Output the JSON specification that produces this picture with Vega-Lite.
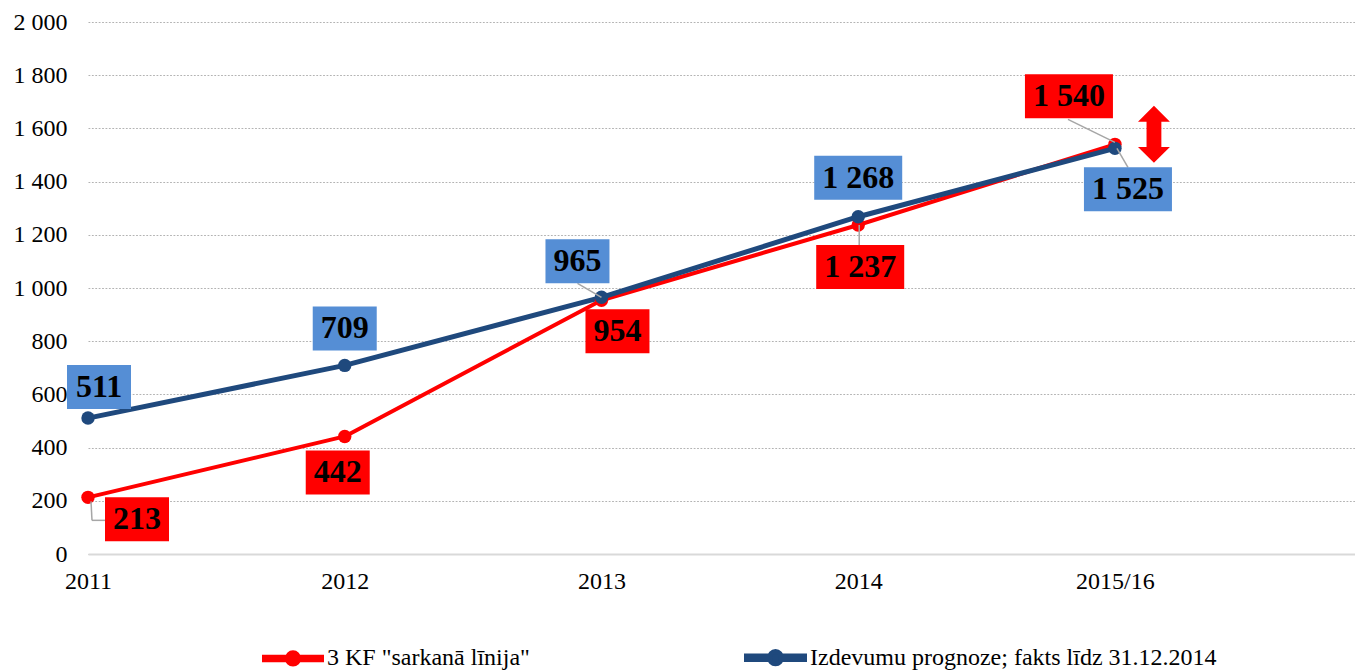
{
  "$schema": "https://vega.github.io/schema/vega-lite/v6.json",
  "autosize": {"type": "none"},
  "padding": {"left": 88, "top": 22, "right": 0, "bottom": 117},
  "width": 1267,
  "height": 532,
  "background": "#ffffff",
  "config": {
    "view": {"stroke": null},
    "locale": {"number": {"decimal": ",", "thousands": " ", "grouping": [3], "currency": ["", ""]}},
    "axis": {"labelFont": "Liberation Serif", "labelFontSize": 24, "labelColor": "#000000"}
  },
  "data": {
    "values": [
      {"series": "3 KF \"sarkanā līnija\"", "year": "2011", "idx": 0, "value": 213},
      {"series": "3 KF \"sarkanā līnija\"", "year": "2012", "idx": 1, "value": 442},
      {"series": "3 KF \"sarkanā līnija\"", "year": "2013", "idx": 2, "value": 954},
      {"series": "3 KF \"sarkanā līnija\"", "year": "2014", "idx": 3, "value": 1237},
      {"series": "3 KF \"sarkanā līnija\"", "year": "2015/16", "idx": 4, "value": 1540},
      {"series": "Izdevumu prognoze; fakts līdz 31.12.2014", "year": "2011", "idx": 0, "value": 511},
      {"series": "Izdevumu prognoze; fakts līdz 31.12.2014", "year": "2012", "idx": 1, "value": 709},
      {"series": "Izdevumu prognoze; fakts līdz 31.12.2014", "year": "2013", "idx": 2, "value": 965},
      {"series": "Izdevumu prognoze; fakts līdz 31.12.2014", "year": "2014", "idx": 3, "value": 1268},
      {"series": "Izdevumu prognoze; fakts līdz 31.12.2014", "year": "2015/16", "idx": 4, "value": 1525}
    ]
  },
  "encoding": {
    "x": {
      "field": "idx", "type": "quantitative",
      "scale": {"domain": [0, 4.935], "nice": false, "zero": false},
      "axis": {
        "title": null, "values": [0, 1, 2, 3, 4],
        "labelExpr": "['2011','2012','2013','2014','2015/16'][datum.value]",
        "grid": false, "ticks": false, "tickSize": 0, "labelPadding": 15,
        "domainColor": "#D9D9D9", "domainWidth": 2, "zindex": 1,
        "labelAlign": "center", "labelBaseline": "top", "labelFlush": false
      }
    },
    "y": {
      "field": "value", "type": "quantitative",
      "scale": {"domain": [0, 2000], "nice": false},
      "axis": {
        "title": null, "values": [0, 200, 400, 600, 800, 1000, 1200, 1400, 1600, 1800, 2000],
        "format": ",d", "domain": false, "ticks": false, "tickSize": 0, "labelPadding": 21,
        "grid": true, "gridColor": "#B3B3B3", "gridDash": [1.8, 1.6], "gridWidth": 1.1,
        "labelFlush": false, "labelBaseline": "middle"
      }
    }
  },
  "layer": [
    {
      "mark": {"type": "line", "strokeCap": "round", "strokeJoin": "round"},
      "encoding": {
        "color": {
          "field": "series", "type": "nominal",
          "scale": {"domain": ["3 KF \"sarkanā līnija\"", "Izdevumu prognoze; fakts līdz 31.12.2014"], "range": ["#FF0000", "#1F497D"]},
          "legend": {
            "title": null, "orient": "none", "legendX": 174, "legendY": 604, "direction": "horizontal",
            "symbolType": "M-1,-0.06L-0.2,-0.06L-0.2,0.06L-1,0.06Z M0.2,-0.06L1,-0.06L1,0.06L0.2,0.06Z M-0.21,0A0.21,0.21 0 1,0 0.21,0A0.21,0.21 0 1,0 -0.21,0Z",
            "symbolSize": 3364, "symbolStrokeWidth": 0, "symbolOpacity": 1,
            "labelFont": "Liberation Serif", "labelFontSize": 24, "labelColor": "#000000", "labelLimit": 0,
            "labelOffset": 3, "columnPadding": 206, "padding": 0,
            "encode": {"symbols": {"update": {"fill": {"scale": "color", "field": "value"}, "stroke": {"value": "transparent"}}}}
          }
        },
        "strokeWidth": {
          "field": "series", "type": "nominal",
          "scale": {"domain": ["3 KF \"sarkanā līnija\"", "Izdevumu prognoze; fakts līdz 31.12.2014"], "range": [4, 5]},
          "legend": null
        }
      }
    },
    {
      "mark": {"type": "point", "filled": true, "opacity": 1, "size": 180, "strokeWidth": 0},
      "encoding": {
        "color": {
          "field": "series", "type": "nominal",
          "scale": {"domain": ["3 KF \"sarkanā līnija\"", "Izdevumu prognoze; fakts līdz 31.12.2014"], "range": ["#FF0000", "#1F497D"]},
          "legend": {
            "title": null, "orient": "none", "legendX": 174, "legendY": 604, "direction": "horizontal",
            "symbolType": "M-1,-0.06L-0.2,-0.06L-0.2,0.06L-1,0.06Z M0.2,-0.06L1,-0.06L1,0.06L0.2,0.06Z M-0.21,0A0.21,0.21 0 1,0 0.21,0A0.21,0.21 0 1,0 -0.21,0Z",
            "symbolSize": 3364, "symbolStrokeWidth": 0, "symbolOpacity": 1,
            "labelFont": "Liberation Serif", "labelFontSize": 24, "labelColor": "#000000", "labelLimit": 0,
            "labelOffset": 3, "columnPadding": 206, "padding": 0,
            "encode": {"symbols": {"update": {"fill": {"scale": "color", "field": "value"}, "stroke": {"value": "transparent"}}}}
          }
        }
      }
    },
    {"transform": [{"filter": "datum.value == 213"}], "mark": {"type": "rule", "color": "#A6A6A6", "strokeWidth": 1.5, "xOffset": 3, "yOffset": 4, "x2Offset": 4, "y2Offset": 23}, "encoding": {"x2": {"field": "idx"}, "y2": {"field": "value"}}},
    {"transform": [{"filter": "datum.value == 213"}], "mark": {"type": "rule", "color": "#A6A6A6", "strokeWidth": 1.5, "xOffset": 4, "yOffset": 23, "x2Offset": 19, "y2Offset": 23}, "encoding": {"x2": {"field": "idx"}, "y2": {"field": "value"}}},
    {"transform": [{"filter": "datum.value == 965"}], "mark": {"type": "rule", "color": "#A6A6A6", "strokeWidth": 1.5, "xOffset": 0, "yOffset": 0, "x2Offset": -24, "y2Offset": -14}, "encoding": {"x2": {"field": "idx"}, "y2": {"field": "value"}}},
    {"transform": [{"filter": "datum.value == 1237"}], "mark": {"type": "rule", "color": "#A6A6A6", "strokeWidth": 1.5, "xOffset": 1, "yOffset": 0, "x2Offset": 1, "y2Offset": 20}, "encoding": {"x2": {"field": "idx"}, "y2": {"field": "value"}}},
    {"transform": [{"filter": "datum.value == 1540"}], "mark": {"type": "rule", "color": "#A6A6A6", "strokeWidth": 1.5, "xOffset": -47, "yOffset": -25, "x2Offset": 0, "y2Offset": -2}, "encoding": {"x2": {"field": "idx"}, "y2": {"field": "value"}}},
    {"transform": [{"filter": "datum.value == 1525"}], "mark": {"type": "rule", "color": "#A6A6A6", "strokeWidth": 1.5, "xOffset": 2, "yOffset": 0, "x2Offset": 13, "y2Offset": 19}, "encoding": {"x2": {"field": "idx"}, "y2": {"field": "value"}}},

    {"transform": [{"filter": "datum.value == 213"}], "layer": [
      {"mark": {"type": "point", "shape": "M-1,-0.6875L1,-0.6875L1,0.6875L-1,0.6875Z", "size": 4096, "filled": true, "opacity": 1, "color": "#FF0000", "strokeWidth": 0, "xOffset": 49, "yOffset": 22}},
      {"mark": {"type": "text", "font": "Liberation Serif", "fontWeight": "bold", "fontSize": 32, "color": "#000000", "align": "center", "baseline": "middle", "xOffset": 49, "yOffset": 22}, "encoding": {"text": {"field": "value", "type": "quantitative", "format": ",d"}}}
    ]},
    {"transform": [{"filter": "datum.value == 442"}], "layer": [
      {"mark": {"type": "point", "shape": "M-1,-0.6875L1,-0.6875L1,0.6875L-1,0.6875Z", "size": 4096, "filled": true, "opacity": 1, "color": "#FF0000", "strokeWidth": 0, "xOffset": -7, "yOffset": 36}},
      {"mark": {"type": "text", "font": "Liberation Serif", "fontWeight": "bold", "fontSize": 32, "color": "#000000", "align": "center", "baseline": "middle", "xOffset": -7, "yOffset": 36}, "encoding": {"text": {"field": "value", "type": "quantitative", "format": ",d"}}}
    ]},
    {"transform": [{"filter": "datum.value == 954"}], "layer": [
      {"mark": {"type": "point", "shape": "M-1,-0.6875L1,-0.6875L1,0.6875L-1,0.6875Z", "size": 4096, "filled": true, "opacity": 1, "color": "#FF0000", "strokeWidth": 0, "xOffset": 16, "yOffset": 31}},
      {"mark": {"type": "text", "font": "Liberation Serif", "fontWeight": "bold", "fontSize": 32, "color": "#000000", "align": "center", "baseline": "middle", "xOffset": 16, "yOffset": 31}, "encoding": {"text": {"field": "value", "type": "quantitative", "format": ",d"}}}
    ]},
    {"transform": [{"filter": "datum.value == 1237"}], "layer": [
      {"mark": {"type": "point", "shape": "M-1,-0.5L1,-0.5L1,0.5L-1,0.5Z", "size": 7744, "filled": true, "opacity": 1, "color": "#FF0000", "strokeWidth": 0, "xOffset": 2, "yOffset": 42}},
      {"mark": {"type": "text", "font": "Liberation Serif", "fontWeight": "bold", "fontSize": 32, "color": "#000000", "align": "center", "baseline": "middle", "xOffset": 2, "yOffset": 42}, "encoding": {"text": {"field": "value", "type": "quantitative", "format": ",d"}}}
    ]},
    {"transform": [{"filter": "datum.value == 1540"}], "layer": [
      {"mark": {"type": "point", "shape": "M-1,-0.5L1,-0.5L1,0.5L-1,0.5Z", "size": 7744, "filled": true, "opacity": 1, "color": "#FF0000", "strokeWidth": 0, "xOffset": -46, "yOffset": -48}},
      {"mark": {"type": "text", "font": "Liberation Serif", "fontWeight": "bold", "fontSize": 32, "color": "#000000", "align": "center", "baseline": "middle", "xOffset": -46, "yOffset": -48}, "encoding": {"text": {"field": "value", "type": "quantitative", "format": ",d"}}},
      {"mark": {"type": "point", "shape": "M0,-1L0.56,-0.44L0.26,-0.44L0.26,0.44L0.56,0.44L0,1L-0.56,0.44L-0.26,0.44L-0.26,-0.44L-0.56,-0.44Z", "size": 3249, "filled": true, "opacity": 1, "color": "#FF0000", "strokeWidth": 0, "xOffset": 39, "yOffset": -10}}
    ]},
    {"transform": [{"filter": "datum.value == 511"}], "layer": [
      {"mark": {"type": "point", "shape": "M-1,-0.6875L1,-0.6875L1,0.6875L-1,0.6875Z", "size": 4096, "filled": true, "opacity": 1, "color": "#558ED5", "strokeWidth": 0, "xOffset": 11, "yOffset": -31}},
      {"mark": {"type": "text", "font": "Liberation Serif", "fontWeight": "bold", "fontSize": 32, "color": "#000000", "align": "center", "baseline": "middle", "xOffset": 11, "yOffset": -31}, "encoding": {"text": {"field": "value", "type": "quantitative", "format": ",d"}}}
    ]},
    {"transform": [{"filter": "datum.value == 709"}], "layer": [
      {"mark": {"type": "point", "shape": "M-1,-0.6875L1,-0.6875L1,0.6875L-1,0.6875Z", "size": 4096, "filled": true, "opacity": 1, "color": "#558ED5", "strokeWidth": 0, "xOffset": 0, "yOffset": -37}},
      {"mark": {"type": "text", "font": "Liberation Serif", "fontWeight": "bold", "fontSize": 32, "color": "#000000", "align": "center", "baseline": "middle", "xOffset": 0, "yOffset": -37}, "encoding": {"text": {"field": "value", "type": "quantitative", "format": ",d"}}}
    ]},
    {"transform": [{"filter": "datum.value == 965"}], "layer": [
      {"mark": {"type": "point", "shape": "M-1,-0.6875L1,-0.6875L1,0.6875L-1,0.6875Z", "size": 4096, "filled": true, "opacity": 1, "color": "#558ED5", "strokeWidth": 0, "xOffset": -24, "yOffset": -36}},
      {"mark": {"type": "text", "font": "Liberation Serif", "fontWeight": "bold", "fontSize": 32, "color": "#000000", "align": "center", "baseline": "middle", "xOffset": -24, "yOffset": -36}, "encoding": {"text": {"field": "value", "type": "quantitative", "format": ",d"}}}
    ]},
    {"transform": [{"filter": "datum.value == 1268"}], "layer": [
      {"mark": {"type": "point", "shape": "M-1,-0.5L1,-0.5L1,0.5L-1,0.5Z", "size": 7744, "filled": true, "opacity": 1, "color": "#558ED5", "strokeWidth": 0, "xOffset": 0, "yOffset": -39}},
      {"mark": {"type": "text", "font": "Liberation Serif", "fontWeight": "bold", "fontSize": 32, "color": "#000000", "align": "center", "baseline": "middle", "xOffset": 0, "yOffset": -39}, "encoding": {"text": {"field": "value", "type": "quantitative", "format": ",d"}}}
    ]},
    {"transform": [{"filter": "datum.value == 1525"}], "layer": [
      {"mark": {"type": "point", "shape": "M-1,-0.5L1,-0.5L1,0.5L-1,0.5Z", "size": 7744, "filled": true, "opacity": 1, "color": "#558ED5", "strokeWidth": 0, "xOffset": 13, "yOffset": 41}},
      {"mark": {"type": "text", "font": "Liberation Serif", "fontWeight": "bold", "fontSize": 32, "color": "#000000", "align": "center", "baseline": "middle", "xOffset": 13, "yOffset": 41}, "encoding": {"text": {"field": "value", "type": "quantitative", "format": ",d"}}}
    ]}
  ]
}
